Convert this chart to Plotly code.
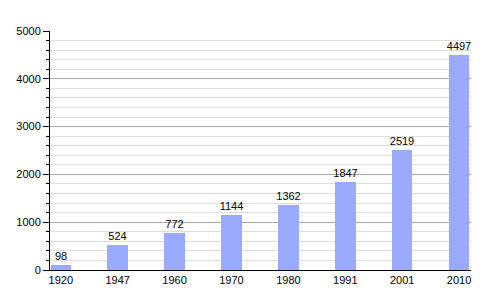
import plotly.graph_objects as go

years = ["1920", "1947", "1960", "1970", "1980", "1991", "2001", "2010"]
population = [98, 524, 772, 1144, 1362, 1847, 2519, 4497]

fig = go.Figure()
fig.add_trace(go.Bar(
    x=list(range(len(years))),
    y=population,
    text=[str(v) for v in population],
    textposition="outside",
    textfont=dict(family="Liberation Sans, Arial, sans-serif", size=11, color="#000"),
    marker=dict(color="#99aaff", line=dict(width=0)),
    width=0.36,
    cliponaxis=False,
))

fig.update_layout(
    width=500, height=300,
    margin=dict(l=50, r=29, t=31, b=30),
    paper_bgcolor="white", plot_bgcolor="white",
    showlegend=False,
    uniformtext=dict(minsize=11, mode="show"),
    font=dict(family="Liberation Sans, Arial, sans-serif", size=11, color="#000"),
    xaxis=dict(
        tickmode="array", tickvals=list(range(len(years))), ticktext=years,
        range=[-0.19, 7.21],
        showgrid=False, zeroline=False,
        showline=True, linecolor="#000", linewidth=1,
        ticks="", ticklen=0,
    ),
    yaxis=dict(
        range=[0, 5000], dtick=1000, tick0=0,
        showgrid=True, gridcolor="#aaaaaa", gridwidth=1,
        zeroline=False,
        showline=True, linecolor="#000", linewidth=1,
        ticks="outside", ticklen=6, tickcolor="#000", tickwidth=1,
        minor=dict(dtick=200, showgrid=True, gridcolor="#dddddd", gridwidth=1,
                   ticks="outside", ticklen=3, tickcolor="#000"),
    ),
    bargap=0,
)

fig.write_html("out.html")
